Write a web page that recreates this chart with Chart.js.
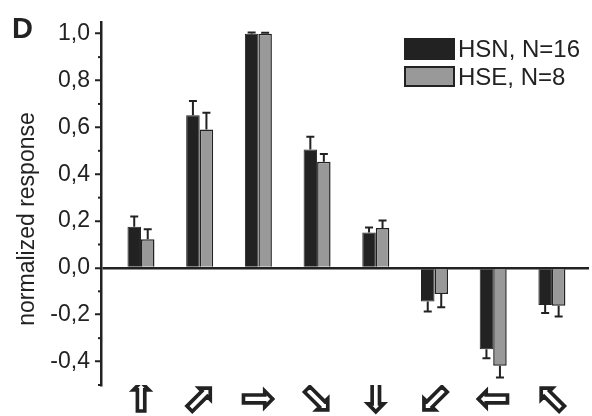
<!DOCTYPE html>
<html><head><meta charset="utf-8">
<script src="https://cdn.jsdelivr.net/npm/chart.js@4/dist/chart.umd.min.js"></script>
<style>html,body{margin:0;padding:0;background:#fff;}canvas{display:block;}</style>
</head><body>
<canvas id="c" width="592" height="416"></canvas>
<script>
// ---- data ----
const categories = ['up', 'up-right', 'right', 'down-right', 'down', 'down-left', 'left', 'up-left'];
const arrowLabels = ['\u21E7', '\u2B00', '\u21E8', '\u2B02', '\u21E9', '\u2B03', '\u21E6', '\u2B01'];
const hsnValues = [0.176, 0.652, 1.0, 0.506, 0.151, -0.143, -0.347, -0.158];
const hsnErrors = [0.043, 0.061, 0.005, 0.054, 0.021, 0.043, 0.039, 0.035];
const hseValues = [0.122, 0.591, 1.0, 0.453, 0.170, -0.111, -0.418, -0.162];
const hseErrors = [0.043, 0.071, 0.004, 0.033, 0.032, 0.057, 0.050, 0.046];
const seriesNames = ['HSN, N=16', 'HSE, N=8'];
const yTickValues = [-0.4, -0.2, 0, 0.2, 0.4, 0.6, 0.8, 1.0];
const panelLabel = 'D';
const yTitle = 'normalized response';

const FONT = "'Liberation Sans', Arial, Helvetica, sans-serif";
const INK = '#222';
const GREY = '#999';
const errorSets = [hsnErrors, hseErrors];

const errorBars = {
  id: 'errorBars',
  afterDatasetsDraw(chart) {
    const ctx = chart.ctx, ys = chart.scales.y;
    chart.data.datasets.forEach((ds, di) => {
      const meta = chart.getDatasetMeta(di);
      meta.data.forEach((bar, i) => {
        const v = ds.data[i].y, e = errorSets[di][i];
        const end = ys.getPixelForValue(v + Math.sign(v) * e);
        ctx.save();
        ctx.strokeStyle = INK; ctx.lineWidth = 2;
        ctx.beginPath();
        ctx.moveTo(bar.x, bar.y); ctx.lineTo(bar.x, end);
        ctx.moveTo(bar.x - 4, end); ctx.lineTo(bar.x + 4, end);
        ctx.stroke();
        ctx.restore();
      });
    });
  }
};

const decorations = {
  id: 'decorations',
  afterDraw(chart) {
    const ctx = chart.ctx, ys = chart.scales.y, left = chart.chartArea.left;
    ctx.save();
    // minor ticks
    ctx.strokeStyle = INK; ctx.lineWidth = 2;
    for (let k = -5; k <= 10; k++) {
      if (Math.abs(k) % 2 === 1) {
        const py = ys.getPixelForValue(k / 10);
        ctx.beginPath(); ctx.moveTo(left - 3, py); ctx.lineTo(left, py); ctx.stroke();
      }
    }
    // panel label
    ctx.fillStyle = INK;
    ctx.font = 'bold 29px ' + FONT;
    ctx.textAlign = 'left'; ctx.textBaseline = 'alphabetic';
    ctx.fillText(panelLabel, 12, 38);
    // y title
    ctx.save();
    ctx.translate(28, 219);
    ctx.rotate(-Math.PI / 2);
    ctx.font = '23px ' + FONT;
    ctx.textAlign = 'center'; ctx.textBaseline = 'middle';
    ctx.fillText(yTitle, 0, 0);
    ctx.restore();
    // legend
    ctx.fillStyle = INK;
    ctx.fillRect(404, 38, 51, 22);
    ctx.fillStyle = GREY;
    ctx.fillRect(404, 66, 51, 21);
    ctx.strokeStyle = INK; ctx.lineWidth = 2;
    ctx.strokeRect(405, 67, 49, 19);
    ctx.fillStyle = INK;
    ctx.font = '24px ' + FONT;
    ctx.textAlign = 'left'; ctx.textBaseline = 'middle';
    ctx.fillText(seriesNames[0], 458, 50);
    ctx.fillText(seriesNames[1], 458, 78);
    ctx.restore();
  }
};

new Chart(document.getElementById('c'), {
  type: 'bar',
  data: {
    datasets: [
      { label: seriesNames[0], data: categories.map((c, i) => ({ x: i, y: hsnValues[i] })),
        backgroundColor: INK, borderColor: INK, borderWidth: 1 },
      { label: seriesNames[1], data: categories.map((c, i) => ({ x: i, y: hseValues[i] })),
        backgroundColor: GREY, borderColor: INK, borderWidth: 1.5 }
    ]
  },
  options: {
    responsive: false,
    animation: false,
    devicePixelRatio: 1,
    categoryPercentage: 0.46,
    barPercentage: 1,
    layout: { padding: { left: 0, top: 22, right: 3, bottom: 0 } },
    plugins: { legend: { display: false }, tooltip: { enabled: false } },
    scales: {
      x: {
        type: 'linear',
        offset: false,
        min: -0.681, max: 7.632,
        afterFit(s) { s.height = 31; },
        grid: { display: false, drawTicks: false, offset: false },
        border: { display: false },
        ticks: {
          stepSize: 1, includeBounds: false, autoSkip: false, maxRotation: 0, minRotation: 0,
          padding: -9, color: INK,
          textStrokeColor: INK, textStrokeWidth: 1.6,
          font: { family: "'DejaVu Sans', sans-serif", size: 42 },
          callback: (v) => (Number.isInteger(v) && v >= 0 && v < arrowLabels.length) ? arrowLabels[v] : ''
        }
      },
      y: {
        min: -0.5, max: 1.05,
        afterFit(s) { s.width = 101; },
        border: { display: true, color: INK, width: 2.5 },
        grid: {
          color: (c) => (c.tick && Math.abs(c.tick.value) < 1e-9) ? INK : 'rgba(0,0,0,0)',
          lineWidth: 2.5, tickColor: INK, tickLength: 6, tickWidth: 2, drawOnChartArea: true
        },
        afterBuildTicks(s) { s.ticks = yTickValues.map(v => ({ value: v })); },
        ticks: {
          padding: 5, color: INK,
          font: { family: FONT, size: 23 },
          callback: (v) => (Math.round(v * 10) / 10).toFixed(1).replace('.', ',')
        }
      }
    }
  },
  plugins: [errorBars, decorations]
});
</script>
</body></html>
